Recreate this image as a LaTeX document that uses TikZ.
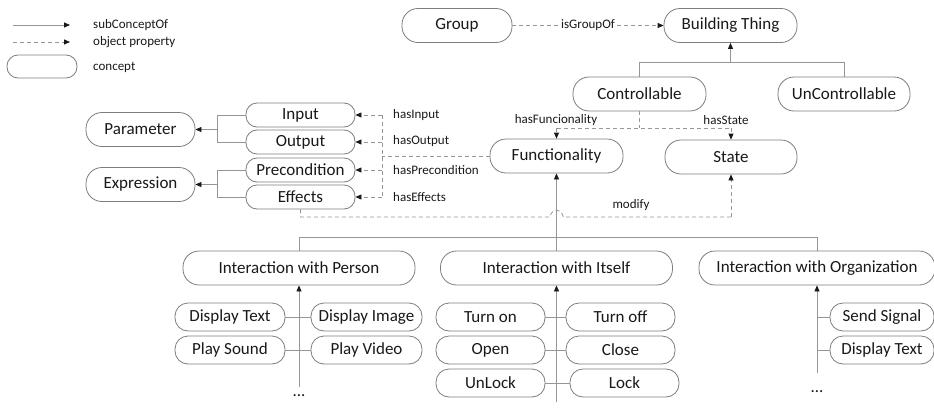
\documentclass[tikz,border=0pt]{standalone}
\usepackage{fontspec}
\setmainfont{Carlito}
\usetikzlibrary{arrows.meta,calc}
\definecolor{linegray}{RGB}{150,150,150}
\definecolor{boxgray}{RGB}{125,125,125}
\definecolor{inkblack}{RGB}{25,25,25}
\tikzset{
  concept/.style={draw=boxgray, line width=0.8pt, fill=white, inner sep=0pt,
    text=inkblack, font=\fontsize{17}{19}\selectfont},
  bigc/.style={concept, minimum height=34pt, rounded corners=16pt},
  midc/.style={concept, minimum height=28pt, rounded corners=13pt},
  smallc/.style={concept, minimum height=24pt, rounded corners=11pt},
  wd/.style={minimum width=#1},
  link/.style={draw=linegray, line width=0.8pt},
  sub/.style={link, -{Triangle[length=6pt,width=5pt,color=inkblack]}},
  prop/.style={link, dashed, dash pattern=on 4pt off 3pt},
  propto/.style={prop, -{Triangle[length=6pt,width=5pt,color=inkblack]}},
  lbl/.style={text=inkblack, font=\fontsize{13}{15}\selectfont, inner sep=1pt},
  dots/.style={text=inkblack, font=\fontsize{17}{19}\selectfont, anchor=base, inner sep=0pt}
}
\begin{document}
\begin{tikzpicture}[x=1pt,y=-1pt]
\useasboundingbox (0,0) rectangle (934,407);

% legend
\coordinate (la1) at (13,25);  \coordinate (la2) at (70,25);
\coordinate (lb1) at (13,42);  \coordinate (lb2) at (70,42);
\draw[sub] (la1) -- (la2);
\draw[propto] (lb1) -- (lb2);
\node[concept, wd=70pt, minimum height=23pt, rounded corners=11pt] (lconcept) at (42,66.5) {};
\node[lbl, anchor=west] (lsub) at (92,25) {subConceptOf};
\node[lbl, anchor=west] (lprop) at (92,42) {object property};
\node[lbl, anchor=west] (lcon) at (92,67) {concept};

% upper concepts
\node[bigc, wd=110pt] (group) at (457,25.5) {Group};
\node[bigc, wd=133pt] (bthing) at (730.5,25.5) {Building Thing};
\node[bigc, wd=133pt] (ctrl) at (639.5,94) {Controllable};
\node[bigc, wd=132pt] (unctrl) at (844,94) {UnControllable};
\node[bigc, wd=133pt] (func) at (556.5,156) {Functionality};
\node[bigc, wd=132pt] (state) at (731,157) {State};

% functionality descriptors
\node[bigc, wd=109pt] (param) at (140.5,129.5) {Parameter};
\node[bigc, wd=109pt] (expr) at (140.5,184.5) {Expression};
\node[smallc, wd=109pt] (input) at (300.5,115) {Input};
\node[smallc, wd=109pt] (output) at (300.5,142) {Output};
\node[smallc, wd=109pt] (precond) at (300.5,170) {Precondition};
\node[smallc, wd=109pt] (effects) at (300.5,197) {Effects};

% interaction kinds
\node[bigc, wd=232pt] (iperson) at (299,268) {Interaction with Person};
\node[bigc, wd=232pt] (iitself) at (556.5,268) {Interaction with Itself};
\node[bigc, wd=236pt] (iorg) at (817,268) {Interaction with Organization};

\node[midc, wd=110pt] (dtext) at (230,317) {Display Text};
\node[midc, wd=111pt] (dimage) at (366.5,317) {Display Image};
\node[midc, wd=110pt] (psound) at (230,350) {Play Sound};
\node[midc, wd=111pt] (pvideo) at (366.5,350) {Play Video};

\node[midc, wd=109pt] (turnon) at (490.5,317) {Turn on};
\node[midc, wd=109pt] (turnoff) at (620.5,317) {Turn off};
\node[midc, wd=109pt] (open) at (490.5,350) {Open};
\node[midc, wd=109pt] (close) at (620.5,350) {Close};
\node[midc, wd=109pt] (unlock) at (490.5,383) {UnLock};
\node[midc, wd=109pt] (lock) at (624.5,383) {Lock};

\node[midc, wd=104pt] (signal) at (882,317) {Send Signal};
\node[midc, wd=104pt] (dtext2) at (882,350) {Display Text};

% Group -> Building Thing
\draw[propto] (group.east) -- (bthing.west)
  node[pos=0.5, fill=white, lbl, inner xsep=2pt] (isgroup) {isGroupOf};

% Controllable / UnControllable under Building Thing
\coordinate (tj) at (bthing.south |- 0,62);
\draw[link] (ctrl.north) -- (ctrl.north |- tj) -- (unctrl.north |- tj) -- (unctrl.north);
\draw[sub] (tj) -- (bthing.south);

% Controllable -> Functionality, State
\coordinate (cj) at (ctrl.south |- 0,128);
\draw[prop] (ctrl.south) -- (cj);
\draw[prop] (func.north |- cj) -- (state.north |- cj);
\draw[propto] (func.north |- cj) -- (func.north);
\draw[propto] (state.north |- cj) -- (state.north);
\node[lbl] (hasfunc) at (556,120) {hasFuncionality};
\node[lbl] (hasstate) at (726,120) {hasState};

% Functionality -> Input / Output / Precondition / Effects
\coordinate (fj) at (382,156);
\draw[prop] (func.west) -- (fj);
\draw[prop] (input.east -| fj) -- (effects.east -| fj);
\draw[propto] (input.east -| fj) -- (input.east);
\draw[propto] (output.east -| fj) -- (output.east);
\draw[propto] (precond.east -| fj) -- (precond.east);
\draw[propto] (effects.east -| fj) -- (effects.east);
\node[lbl, anchor=west] (hasin) at (392,115) {hasInput};
\node[lbl, anchor=west] (hasout) at (392,141) {hasOutput};
\node[lbl, anchor=west] (haspre) at (392,170) {hasPrecondition};
\node[lbl, anchor=west] (haseff) at (392,197) {hasEffects};

% Input / Output under Parameter, Precondition / Effects under Expression
\coordinate (pj) at (217,0);
\draw[link] (input.west) -- (input.west -| pj) -- (output.west -| pj) -- (output.west);
\draw[sub] (param.east -| pj) -- (param.east);
\draw[link] (precond.west) -- (precond.west -| pj) -- (effects.west -| pj) -- (effects.west);
\draw[sub] (expr.east -| pj) -- (expr.east);

% Effects modify State (hopping over the Functionality line)
\coordinate (mj) at (func.south |- 0,217);
\draw[prop] (effects.south) -- (effects.south |- mj) -- ($(mj)+(-7,0)$)
  .. controls ($(mj)+(-4,-9)$) and ($(mj)+(4,-9)$) .. ($(mj)+(7,0)$)
  -- (state.south |- mj);
\draw[propto] (state.south |- mj) -- (state.south);
\node[lbl] (modify) at (631,205) {modify};

% interaction kinds under Functionality
\coordinate (fb) at (func.south |- 0,237);
\draw[sub] (iitself.north -| func.south) -- (func.south);
\draw[link] (iperson.north) -- (iperson.north |- fb) -- (iorg.north |- fb) -- (iorg.north);

% Person
\coordinate (pend) at (299,387);
\draw[sub] (pend) -- (iperson.south);
\draw[link] (dtext.east) -- (dimage.west);
\draw[link] (psound.east) -- (pvideo.west);
\node[dots] (pdots) at (299,396) {...};

% Itself
\coordinate (send) at (556.5,402);
\draw[sub] (send) -- (iitself.south);
\draw[link] (turnon.east) -- (turnoff.west);
\draw[link] (open.east) -- (close.west);
\draw[link] (unlock.east) -- (lock.west);

% Organization
\coordinate (oend) at (817,373);
\draw[sub] (oend) -- (iorg.south);
\draw[link] (signal.west -| oend) -- (signal.west);
\draw[link] (dtext2.west -| oend) -- (dtext2.west);
\node[dots] (odots) at (817,392) {...};
\end{tikzpicture}
\end{document}
